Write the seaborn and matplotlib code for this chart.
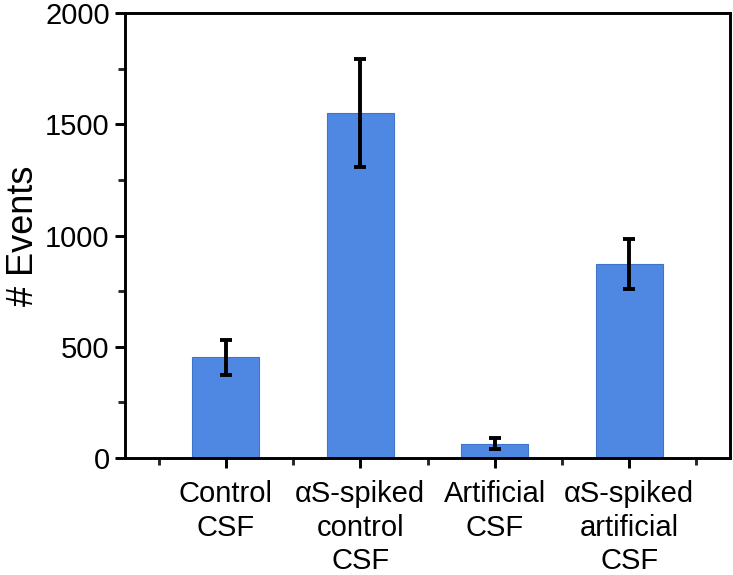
import matplotlib
matplotlib.use("Agg")
import matplotlib.pyplot as plt
import seaborn as sns
import pandas as pd
import numpy as np
from matplotlib.ticker import MultipleLocator, FixedLocator

categories = ["Control\nCSF", "\u03b1S-spiked\ncontrol\nCSF", "Artificial\nCSF", "\u03b1S-spiked\nartificial\nCSF"]
events = [452, 1553, 65, 873]
errors = [77, 243, 25, 112]

sns.set_theme(style="ticks")
plt.rcParams['font.family'] = ['Liberation Sans', 'DejaVu Sans']

df = pd.DataFrame({"cat": categories, "events": events})

fig = plt.figure(figsize=(7.33, 5.75), dpi=100)
ax = fig.add_axes([0.1705, 0.2035, 0.996 - 0.1705, 0.977 - 0.2035])

sns.barplot(data=df, x="cat", y="events", order=categories, color="#4f88e3",
            saturation=1, width=0.5, edgecolor="#3f74c8", linewidth=0.8,
            errorbar=None, ax=ax)
ax.errorbar(np.arange(len(categories)), events, yerr=errors, fmt="none",
            ecolor="black", elinewidth=2.8, capsize=4.5, capthick=2.8, zorder=5)

ax.set_xlim(-0.75, 3.75)
ax.set_ylim(0, 2000)
ax.yaxis.set_major_locator(MultipleLocator(500))
ax.yaxis.set_minor_locator(MultipleLocator(250))
ax.xaxis.set_minor_locator(FixedLocator([-0.5, 0.5, 1.5, 2.5, 3.5]))

for s in ax.spines.values():
    s.set_visible(True)
    s.set_linewidth(2.1)
    s.set_color("black")

ax.tick_params(axis="both", which="major", direction="out", length=7, width=2.1,
               labelsize=21, colors="black")
ax.tick_params(axis="both", which="minor", direction="out", length=5, width=2.1)
ax.tick_params(axis="x", which="major", pad=9)
ax.tick_params(axis="y", which="major", pad=4)
for lbl in ax.get_xticklabels():
    lbl.set_linespacing(1.25)

ax.set_xlabel("")
ax.set_ylabel("# Events", fontsize=26, color="black")
ax.yaxis.set_label_coords(-0.139, 0.5)

fig.savefig("out.png", dpi=100)
